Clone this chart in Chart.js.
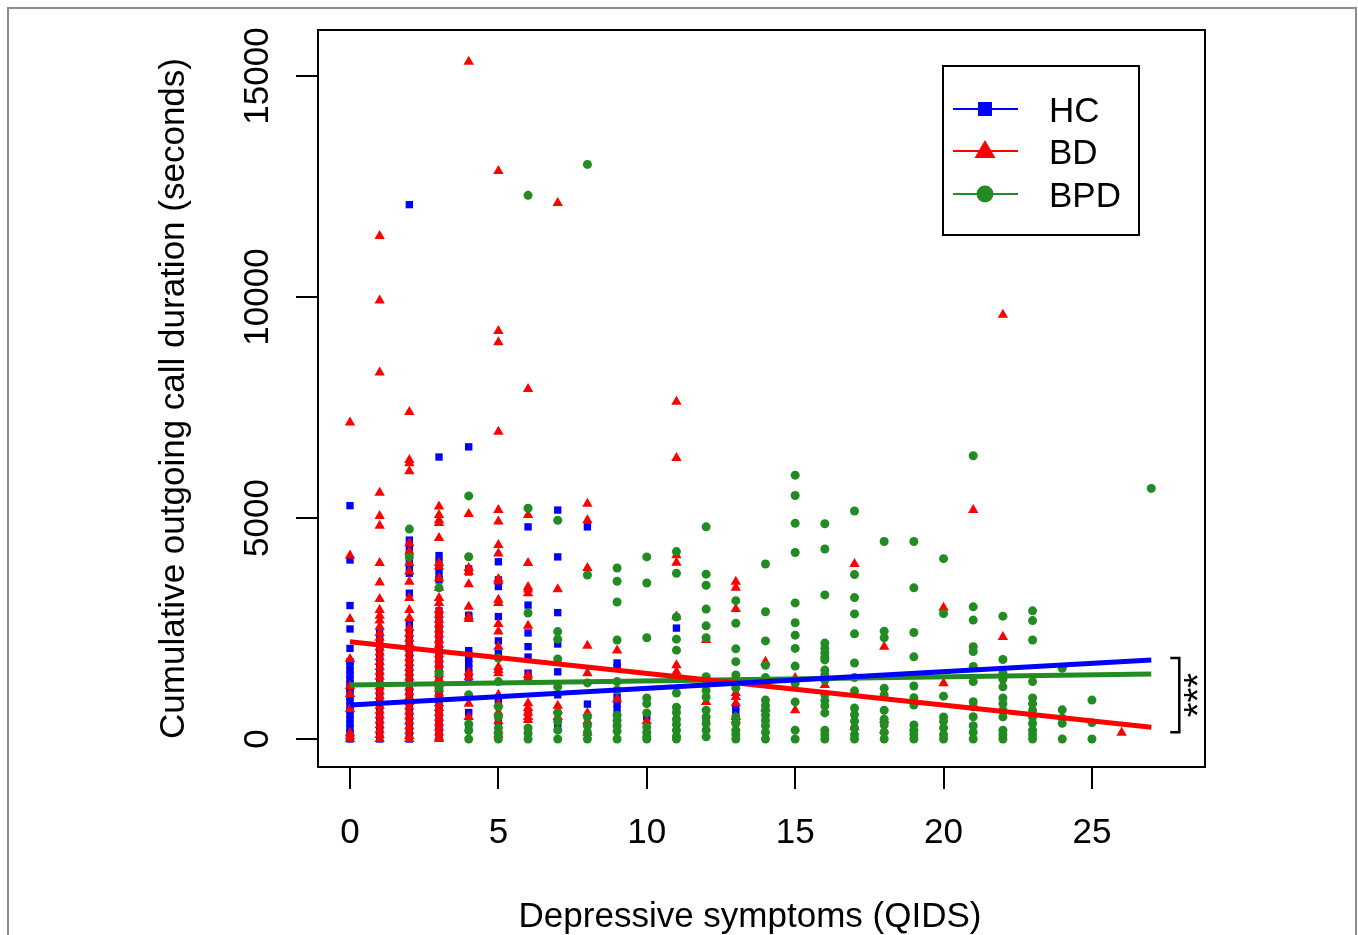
<!DOCTYPE html>
<html>
<head>
<meta charset="utf-8">
<script src="https://cdn.jsdelivr.net/npm/chart.js@4.4.1/dist/chart.umd.min.js"></script>
<style>
  html, body { margin: 0; padding: 0; background: #fff; }
  canvas { display: block; }
</style>
</head>
<body>
<canvas id="qidsChart" width="1358" height="935"></canvas>
<script>
// QIDS score for each column of the lists below
const qids = [0, 1, 2, 3, 4, 5, 6, 7, 8, 9, 10, 11, 12, 13, 14, 15, 16, 17, 18, 19, 20, 21, 22, 23, 24, 25, 26, 27];

// cumulative outgoing call duration (s), one list per QIDS score
const hcCalls = [
  [5280, 4050, 3020, 2490, 2050, 1750, 1650, 1550, 1450, 1350, 1250, 1150, 1050, 950, 850, 750, 650, 550, 450, 350, 250, 150, 60, 0],
  [2400, 2250, 2100, 1950, 1800, 1650, 1500, 1350, 1200, 1050, 900, 750, 600, 450, 300, 150, 0],
  [12090, 4500, 4350, 4200, 4050, 3900, 3750, 3300, 2650, 2500, 2350, 2200, 2050, 1900, 1750, 1600, 1450, 1300, 1150, 1000, 850, 700, 550, 400, 250, 100, 0],
  [6380, 4150, 4000, 3850, 3700, 3600, 2900, 2750, 2600, 2450, 2300, 2150, 2000, 1850, 1700, 1550, 1400, 1250, 1100, 950, 800, 650, 500, 350, 200, 50],
  [6610, 3850, 3780, 2800, 2760, 2000, 1900, 1800, 1700, 1600, 1500, 1400, 600, 300],
  [4010, 3600, 3450, 2770, 2220, 1940, 880, 400],
  [4800, 3030, 2400, 2090, 1855, 1490, 600, 200],
  [5180, 4120, 2860, 2150, 1520, 1000, 300],
  [4800, 790],
  [1720, 1630, 950, 800, 660],
  [505],
  [2510],
  [430],
  [730, 600, 430],
  [], [], [], [], [], [], [], [], [], [], [], [], [], []
];

const bdCalls = [
  [7160, 4150, 2715, 1810, 1200, 1020, 680, 130, 60, 0],
  [11380, 9920, 8290, 5570, 5045, 4825, 3980, 3540, 3170, 2920, 2790, 2680, 2540, 2400, 2290, 2180, 2070, 1960, 1850, 1740, 1630, 1520, 1410, 1300, 1190, 1080, 970, 860, 750, 640, 530, 420, 310, 200, 90, 0],
  [7400, 6310, 6240, 6060, 4430, 4240, 3980, 3790, 3560, 3190, 2920, 2740, 2510, 2380, 2270, 2160, 2050, 1940, 1830, 1720, 1610, 1500, 1390, 1280, 1170, 1060, 950, 840, 730, 620, 510, 400, 290, 180, 70, 0],
  [5260, 5070, 4950, 4890, 4550, 3980, 3900, 3640, 3420, 3190, 3080, 2920, 2810, 2700, 2590, 2480, 2370, 2240, 2130, 2020, 1910, 1800, 1690, 1580, 1470, 1360, 1250, 1140, 1030, 920, 810, 700, 590, 480, 370, 260, 150, 40, 0],
  [15320, 5090, 3870, 3780, 3500, 2990, 2770, 2715, 1510, 1400, 800, 500],
  [12850, 9230, 8975, 6950, 5180, 4920, 4390, 4200, 3620, 3570, 3150, 3080, 2600, 2430, 2090, 1630, 1560, 1490, 1000, 800, 600, 400, 200, 100],
  [7920, 5070, 3980, 3440, 3380, 3300, 2560, 1450, 1380, 810, 700, 600, 500, 430],
  [12125, 3390, 750, 650, 500],
  [5320, 4950, 3870, 2110, 1490, 590, 400, 140],
  [2000, 900],
  [400],
  [7630, 6360, 4160, 3990, 2770, 1670, 1520],
  [2240, 840],
  [3560, 3420, 2940, 1040, 950, 810, 500, 430],
  [1750, 690],
  [1380, 650],
  [1220],
  [3960, 270],
  [2090, 430, 200],
  [],
  [2970, 1260],
  [5180],
  [9600, 2310],
  [], [], [],
  [140],
  []
];

const bpdCalls = [
  [],
  [],
  [4750, 4120],
  [3420, 1490, 1150],
  [5500, 4125, 1000, 340, 190, 0],
  [1830, 1300, 730, 505, 250, 120, 0],
  [12300, 5220, 2850, 250, 130, 0],
  [4950, 2430, 2260, 1810, 1180, 590, 400, 200, 0],
  [13000, 3710, 1270, 500, 300, 150, 0],
  [3870, 3570, 3100, 2240, 1300, 1110, 540, 420, 300, 180, 0],
  [4120, 3530, 2290, 930, 800, 590, 270, 150, 50, 0],
  [4240, 3750, 2760, 2260, 2010, 1040, 720, 600, 450, 330, 200, 60, 0],
  [4800, 3730, 3480, 2940, 2560, 2290, 1410, 1260, 1100, 950, 650, 500, 350, 200, 50],
  [3130, 2620, 2040, 1750, 1450, 1300, 1150, 500, 350, 200, 100, 0],
  [3960, 2880, 2220, 1670, 1390, 880, 760, 650, 540, 420, 300, 150, 0],
  [5970, 5510, 4880, 4220, 3080, 2630, 2350, 2050, 1650, 1260, 840, 200, 0],
  [4870, 4300, 3260, 2170, 2050, 1950, 1850, 1790, 1560, 1450, 1330, 1000, 870, 750, 590, 200, 100, 0],
  [5160, 3720, 3200, 2830, 2380, 1720, 1390, 1090, 700, 550, 400, 250, 100, 0],
  [4470, 2440, 2290, 1150, 1000, 650, 450, 320, 150, 0],
  [4470, 3420, 2410, 1860, 1200, 935, 770, 320, 200, 100, 0],
  [4080, 2840, 970, 500, 400, 250, 100, 0],
  [6410, 2990, 2690, 2090, 1980, 1640, 1300, 845, 730, 505, 300, 150, 0],
  [2780, 1800, 1490, 1350, 1180, 930, 800, 650, 500, 200, 100, 0],
  [2900, 2680, 2240, 1300, 930, 800, 650, 500, 350, 200, 100, 0],
  [1600, 660, 470, 355, 0],
  [880, 370, 0],
  [],
  [5670]
];

// fitted regression lines: value at QIDS 0 and 27
const fitX = [0, 27];
const hcFit = [769, 1787];
const bdFit = [2200, 265];
const bpdFit = [1222, 1471];

const groups = ["HC", "BD", "BPD"];
const xTicks = [0, 5, 10, 15, 20, 25];
const yTicks = [0, 5000, 10000, 15000];

const BLUE = "#0000ff";
const RED = "#ff0000";
const GREEN = "#228b22";
const FONT = '"Liberation Sans", Arial, Helvetica, sans-serif';

// flatten per-column lists into {x, y} points
function toPoints(calls) {
  const pts = [];
  calls.forEach((col, i) => col.forEach((v) => pts.push({ x: qids[i], y: v })));
  return pts;
}
function fitLine(vals) {
  return fitX.map((x, i) => ({ x: x, y: vals[i] }));
}

// box, tick labels, titles, legend and significance bracket (R style)
const decorations = {
  id: "decorations",
  afterDraw(chart) {
    const ctx = chart.ctx;
    const area = chart.chartArea;
    const xs = chart.scales.x;
    const ys = chart.scales.y;
    ctx.save();

    // outer figure frame
    ctx.strokeStyle = "#8c8c8c";
    ctx.lineWidth = 2;
    ctx.beginPath();
    ctx.moveTo(8, 940);
    ctx.lineTo(8, 8);
    ctx.lineTo(1356, 8);
    ctx.lineTo(1356, 940);
    ctx.stroke();

    // plot box
    ctx.strokeStyle = "#000";
    ctx.lineWidth = 2;
    ctx.strokeRect(area.left, area.top, area.right - area.left, area.bottom - area.top);

    // tick labels
    ctx.fillStyle = "#000";
    ctx.font = "35px " + FONT;
    ctx.textAlign = "center";
    ctx.textBaseline = "alphabetic";
    xTicks.forEach((v) => ctx.fillText(String(v), xs.getPixelForValue(v), area.bottom + 76));
    yTicks.forEach((v) => {
      ctx.save();
      ctx.translate(area.left - 50, ys.getPixelForValue(v));
      ctx.rotate(-Math.PI / 2);
      ctx.fillText(String(v), 0, 0);
      ctx.restore();
    });

    // axis titles
    ctx.fillText("Depressive symptoms (QIDS)", 750, 927);
    ctx.save();
    ctx.translate(184, (area.top + area.bottom) / 2);
    ctx.rotate(-Math.PI / 2);
    ctx.fillText("Cumulative outgoing call duration (seconds)", 0, 0);
    ctx.restore();

    // significance bracket at the end of the fitted lines
    const bx = xs.getPixelForValue(fitX[1]) + 28;
    const bTop = ys.getPixelForValue(hcFit[1]) - 2;
    const bBot = ys.getPixelForValue(bdFit[1]) + 5;
    ctx.lineWidth = 2.5;
    ctx.beginPath();
    ctx.moveTo(bx - 9, bTop);
    ctx.lineTo(bx, bTop);
    ctx.lineTo(bx, bBot);
    ctx.lineTo(bx - 9, bBot);
    ctx.stroke();
    ctx.save();
    ctx.translate(bx + 11, (bTop + bBot) / 2);
    ctx.rotate(-Math.PI / 2);
    ctx.font = "38px " + FONT;
    ctx.textBaseline = "middle";
    ctx.fillText("***", 0, 10);
    ctx.restore();

    // legend
    ctx.lineWidth = 2;
    ctx.strokeRect(943, 66, 196, 169);
    const colors = [BLUE, RED, GREEN];
    const rowY = [109, 151, 194];
    groups.forEach((g, i) => {
      const y = rowY[i];
      ctx.strokeStyle = colors[i];
      ctx.fillStyle = colors[i];
      ctx.lineWidth = 2;
      ctx.beginPath();
      ctx.moveTo(953, y);
      ctx.lineTo(1018, y);
      ctx.stroke();
      ctx.beginPath();
      if (i === 0) {
        ctx.rect(978, y - 7, 14, 14);
      } else if (i === 1) {
        ctx.moveTo(985, y - 11);
        ctx.lineTo(995.5, y + 7);
        ctx.lineTo(974.5, y + 7);
        ctx.closePath();
      } else {
        ctx.arc(985, y, 8.5, 0, Math.PI * 2);
      }
      ctx.fill();
      ctx.fillStyle = "#000";
      ctx.font = "35px " + FONT;
      ctx.textAlign = "left";
      ctx.textBaseline = "alphabetic";
      ctx.fillText(g, 1049, y + 13);
    });

    ctx.restore();
  }
};

const lineStyle = { showLine: true, pointRadius: 0, borderWidth: 5, fill: false, order: 0 };

new Chart(document.getElementById("qidsChart"), {
  type: "scatter",
  data: {
    datasets: [
      { label: "HC", data: toPoints(hcCalls), pointStyle: "rect", pointRadius: 5.2, pointBorderWidth: 0, backgroundColor: BLUE, borderColor: BLUE, order: 3 },
      { label: "BD", data: toPoints(bdCalls), pointStyle: "triangle", pointRadius: 6, pointBorderWidth: 0, backgroundColor: RED, borderColor: RED, order: 2 },
      { label: "BPD", data: toPoints(bpdCalls), pointStyle: "circle", pointRadius: 4.5, pointBorderWidth: 0, backgroundColor: GREEN, borderColor: GREEN, order: 1 },
      Object.assign({ label: "HC fit", data: fitLine(hcFit), borderColor: BLUE }, lineStyle),
      Object.assign({ label: "BD fit", data: fitLine(bdFit), borderColor: RED }, lineStyle),
      Object.assign({ label: "BPD fit", data: fitLine(bpdFit), borderColor: GREEN }, lineStyle)
    ]
  },
  options: {
    responsive: false,
    animation: false,
    devicePixelRatio: 1,
    events: [],
    layout: { padding: { left: 296, right: 153, top: 30, bottom: 146 } },
    plugins: { legend: { display: false }, tooltip: { enabled: false } },
    scales: {
      x: {
        type: "linear",
        min: -1.078,
        max: 28.81,
        afterBuildTicks: (scale) => { scale.ticks = xTicks.map((v) => ({ value: v })); },
        afterFit: (scale) => { scale.height = 22; },
        ticks: { display: false },
        border: { display: false },
        grid: { drawOnChartArea: false, drawTicks: true, tickLength: 22, color: "#000", lineWidth: 2 }
      },
      y: {
        type: "linear",
        min: -633,
        max: 16041,
        afterBuildTicks: (scale) => { scale.ticks = yTicks.map((v) => ({ value: v })); },
        afterFit: (scale) => { scale.width = 22; },
        ticks: { display: false },
        border: { display: false },
        grid: { drawOnChartArea: false, drawTicks: true, tickLength: 22, color: "#000", lineWidth: 2 }
      }
    }
  },
  plugins: [decorations]
});
</script>
</body>
</html>
